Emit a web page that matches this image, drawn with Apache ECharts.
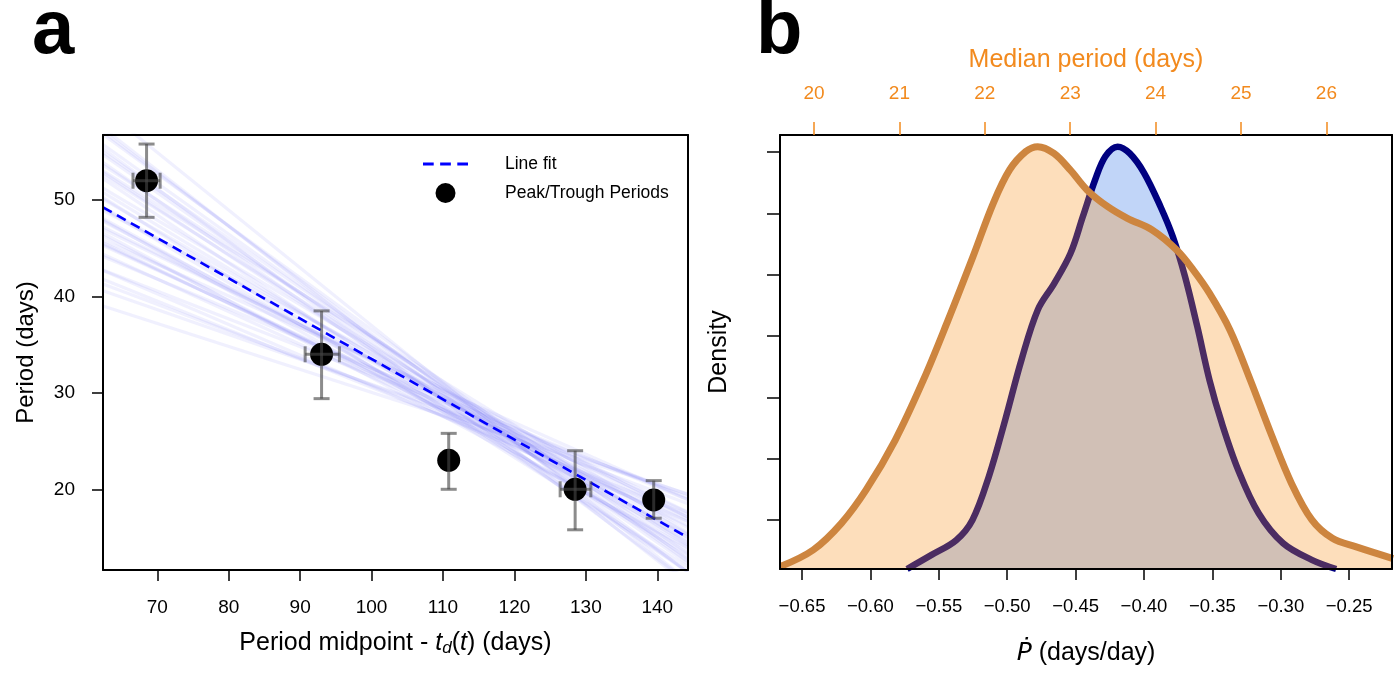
<!DOCTYPE html>
<html>
<head>
<meta charset="utf-8">
<script src="https://cdn.jsdelivr.net/npm/echarts@6/dist/echarts.min.js"></script>
<style>
html,body{margin:0;padding:0;background:#fff;}
#chart{width:1400px;height:676px;}
</style>
</head>
<body>
<div id="chart"></div>
<script>
// ---------- Panel a data ----------
const periodMidpoint = [68.5, 93.0, 110.8, 128.5, 139.5];
const periodDays     = [52.0, 34.0, 23.0, 20.0, 18.9];
const periodErrLow   = [48.2, 29.4, 20.0, 15.8, 17.0];
const periodErrHigh  = [55.8, 38.5, 25.8, 24.0, 20.9];
const midpointErrLow = [66.6, 90.7, 110.8, 126.4, 139.5];
const midpointErrHigh= [70.4, 95.5, 110.8, 130.7, 139.5];
const xRangeA = [62.4, 144.3];
const yRangeA = [11.63, 56.74];
const lineFitY = [49.24, 14.99];          // fit value at the two x-range ends
// posterior sample lines: value at left end and at right end of the x range
const sampleLeftY  = [49.24, 52.57, 45.56, 53.90, 44.13, 49.13, 48.90, 57.09, 41.29, 52.86, 45.27, 53.03, 46.55, 56.80, 42.68, 52.21, 47.21, 50.09, 40.60, 57.48, 46.25, 53.62, 45.82, 55.75, 48.09, 50.78, 41.78, 54.96, 45.42, 55.34, 42.74, 50.27, 47.80, 51.23, 46.96, 54.70, 39.00, 59.48, 47.94, 44.37];
const sampleRightY = [14.99, 14.23, 16.23, 11.46, 18.89, 13.24, 17.11, 11.37, 18.51, 12.88, 17.57, 15.50, 13.94, 12.71, 16.62, 11.41, 17.06, 15.02, 19.46, 10.12, 15.28, 14.45, 18.95, 12.49, 14.66, 14.07, 17.37, 13.33, 16.90, 10.44, 19.14, 11.93, 16.01, 15.34, 17.63, 12.26, 19.50, 10.48, 13.69, 16.67];
const xTicksA = [70, 80, 90, 100, 110, 120, 130, 140];
const yTicksA = [20, 30, 40, 50];

// ---------- Panel b data ----------
const pdotValues = [-0.5732, -0.5553, -0.5373, -0.5254, -0.5134, -0.5015, -0.4896, -0.4776, -0.4656, -0.4537, -0.4447, -0.4357, -0.4283, -0.4193, -0.4104, -0.3999, -0.3879, -0.3789, -0.3700, -0.3610, -0.3521, -0.3431, -0.3312, -0.3162, -0.2983, -0.2774, -0.2595];
const pdotDensity = [0.0, 0.23, 0.47, 0.80, 1.51, 2.43, 3.41, 4.23, 4.66, 5.15, 5.75, 6.35, 6.73, 6.89, 6.78, 6.46, 5.91, 5.42, 4.77, 3.95, 3.08, 2.38, 1.62, 0.91, 0.42, 0.15, 0.0];
const medianPeriod = [19.607, 19.99, 20.32, 20.61, 20.95, 21.28, 21.57, 21.86, 22.10, 22.29, 22.48, 22.62, 22.81, 23.00, 23.20, 23.44, 23.67, 23.96, 24.25, 24.44, 24.63, 24.87, 25.11, 25.35, 25.59, 25.83, 26.07, 26.35, 26.78];
const medianDensity = [0.04, 0.31, 0.745, 1.29, 2.10, 3.08, 4.06, 5.09, 5.97, 6.51, 6.81, 6.89, 6.78, 6.51, 6.18, 5.91, 5.72, 5.53, 5.20, 4.88, 4.50, 3.90, 3.08, 2.21, 1.40, 0.80, 0.50, 0.36, 0.17];
const xRangeB = [-0.6661, -0.2187];
const topRangeB = [19.602, 26.768];
const yRangeB = [0, 7.08];
const xTicksB = [-0.65, -0.60, -0.55, -0.50, -0.45, -0.40, -0.35, -0.30, -0.25];
const topTicksB = [20, 21, 22, 23, 24, 25, 26];
const densityTicks = [0.8, 1.8, 2.8, 3.8, 4.8, 5.8, 6.8];

const FONT = "'Liberation Sans', Arial, Helvetica, sans-serif";
const ORANGE = '#f28a1e';

const chart = echarts.init(document.getElementById('chart'), null, {renderer: 'canvas'});

function boxAxis(type, gridIndex, position) {
  return {
    type: 'value', gridIndex, position, z: 10,
    min: type === 'x' ? (gridIndex === 0 ? xRangeA[0] : xRangeB[0]) : (gridIndex === 0 ? yRangeA[0] : yRangeB[0]),
    max: type === 'x' ? (gridIndex === 0 ? xRangeA[1] : xRangeB[1]) : (gridIndex === 0 ? yRangeA[1] : yRangeB[1]),
    axisLine: {show: true, onZero: false, lineStyle: {color: '#000', width: 2}},
    axisTick: {show: false}, axisLabel: {show: false}, splitLine: {show: false}
  };
}

const minusFmt = v => (v < 0 ? '\u2212' : '') + Math.abs(v).toFixed(2);

const sampleSeries = sampleLeftY.map((l, i) => ({
  name: 'sample ' + i, type: 'line', xAxisIndex: 0, yAxisIndex: 0, z: 1,
  silent: true, symbol: 'none', clip: true,
  lineStyle: {color: 'rgb(85,85,245)', width: 3.2, opacity: 0.085},
  data: [[xRangeA[0], l], [xRangeA[1], sampleRightY[i]]]
}));

const option = {
  backgroundColor: '#fff',
  animation: false,
  textStyle: {fontFamily: FONT},
  grid: [
    {left: 103, top: 135, width: 585, height: 435},
    {left: 780, top: 135, width: 612, height: 434}
  ],
  xAxis: [
    { // 0 panel a bottom
      type: 'value', gridIndex: 0, position: 'bottom', z: 10,
      min: xRangeA[0], max: xRangeA[1],
      axisLine: {show: true, onZero: false, lineStyle: {color: '#000', width: 2}},
      axisTick: {show: true, length: 11, customValues: xTicksA, lineStyle: {color: '#000', width: 1.5}},
      axisLabel: {show: true, customValues: xTicksA, margin: 28, color: '#000', fontSize: 19, fontFamily: FONT},
      splitLine: {show: false},
      name: 'Period midpoint - {it|t}{sub|d}({it|t}) (days)',
      nameLocation: 'middle', nameGap: 60,
      nameTextStyle: {fontSize: 25, color: '#000', fontFamily: FONT,
        rich: {it: {fontStyle: 'italic', fontSize: 25, fontFamily: FONT},
               sub: {fontStyle: 'italic', fontSize: 17, fontFamily: FONT, verticalAlign: 'bottom', padding: [10, 0, 0, 0]}}}
    },
    boxAxis('x', 0, 'top'), // 1 panel a top line
    { // 2 panel b bottom
      type: 'value', gridIndex: 1, position: 'bottom', z: 10,
      min: xRangeB[0], max: xRangeB[1],
      axisLine: {show: true, onZero: false, lineStyle: {color: '#000', width: 2}},
      axisTick: {show: true, length: 11, customValues: xTicksB, lineStyle: {color: '#000', width: 1.5}},
      axisLabel: {show: true, customValues: xTicksB, margin: 28, color: '#000', fontSize: 18.5, fontFamily: FONT, formatter: minusFmt},
      splitLine: {show: false},
      name: '{it|\u1E56} (days/day)',
      nameLocation: 'middle', nameGap: 72,
      nameTextStyle: {fontSize: 25, color: '#000', fontFamily: FONT,
        rich: {it: {fontStyle: 'italic', fontSize: 25, fontFamily: "'DejaVu Sans', " + FONT}}}
    },
    { // 3 panel b top (median period)
      type: 'value', gridIndex: 1, position: 'top', z: 10,
      min: topRangeB[0], max: topRangeB[1],
      axisLine: {show: true, onZero: false, lineStyle: {color: '#000', width: 2}},
      axisTick: {show: true, length: 13, customValues: topTicksB, lineStyle: {color: ORANGE, width: 1.5}},
      axisLabel: {show: true, customValues: topTicksB, margin: 32, color: ORANGE, fontSize: 19, fontFamily: FONT},
      splitLine: {show: false},
      name: 'Median period (days)',
      nameLocation: 'middle', nameGap: 62,
      nameTextStyle: {fontSize: 25, color: ORANGE, fontFamily: FONT}
    }
  ],
  yAxis: [
    { // 0 panel a left
      type: 'value', gridIndex: 0, position: 'left', z: 10,
      min: yRangeA[0], max: yRangeA[1],
      axisLine: {show: true, onZero: false, lineStyle: {color: '#000', width: 2}},
      axisTick: {show: true, length: 11, customValues: yTicksA, lineStyle: {color: '#000', width: 1.5}},
      axisLabel: {show: true, customValues: yTicksA, margin: 28, color: '#000', fontSize: 19, fontFamily: FONT},
      splitLine: {show: false},
      name: 'Period (days)', nameLocation: 'middle', nameGap: 65,
      nameTextStyle: {fontSize: 24, color: '#000', fontFamily: FONT}
    },
    boxAxis('y', 0, 'right'), // 1
    { // 2 panel b left
      type: 'value', gridIndex: 1, position: 'left', z: 10,
      min: yRangeB[0], max: yRangeB[1],
      axisLine: {show: true, onZero: false, lineStyle: {color: '#000', width: 2}},
      axisTick: {show: true, length: 13, customValues: densityTicks, lineStyle: {color: '#000', width: 1.5}},
      axisLabel: {show: false},
      splitLine: {show: false},
      name: 'Density', nameLocation: 'middle', nameGap: 48,
      nameTextStyle: {fontSize: 25, color: '#000', fontFamily: FONT}
    },
    boxAxis('y', 1, 'right') // 3
  ],
  legend: {
    left: 418, top: 150, orient: 'vertical',
    itemWidth: 45, itemHeight: 20, itemGap: 10,
    textStyle: {fontSize: 17.5, color: '#000', fontFamily: FONT, padding: [0, 0, 0, 32]},
    data: [
      {name: 'Line fit', icon: 'path://M0,0h10v3h-10z M16,0h10v3h-10z M32,0h10v3h-10z'},
      {name: 'Peak/Trough Periods', icon: 'circle', itemStyle: {color: '#000', opacity: 1}}
    ]
  },
  graphic: [
    {type: 'text', x: 32, y: 32, z: 100, style: {text: 'a', font: 'bold 76px ' + FONT, fill: '#000', verticalAlign: 'middle'}},
    {type: 'text', x: 756, y: 32, z: 100, style: {text: 'b', font: 'bold 76px ' + FONT, fill: '#000', verticalAlign: 'middle'}}
  ],
  series: sampleSeries.concat([
    {
      name: 'Line fit', type: 'line', xAxisIndex: 0, yAxisIndex: 0, z: 3,
      symbol: 'none', color: '#0000ff',
      lineStyle: {color: '#0000ff', width: 2.6, type: [10, 6]},
      data: [[xRangeA[0], lineFitY[0]], [xRangeA[1], lineFitY[1]]]
    },
    {
      name: 'Peak/Trough Periods', type: 'scatter', xAxisIndex: 0, yAxisIndex: 0, z: 4,
      symbol: 'circle', symbolSize: 23, color: '#000',
      itemStyle: {color: '#000', opacity: 1},
      data: periodMidpoint.map((x, i) => [x, periodDays[i]])
    },
    {
      name: 'error bars', type: 'custom', xAxisIndex: 0, yAxisIndex: 0, z: 5, silent: true,
      renderItem: function (params, api) {
        const x = api.value(0), y = api.value(1);
        const yl = api.value(2), yh = api.value(3), xl = api.value(4), xh = api.value(5);
        const pl = api.coord([x, yl]), ph = api.coord([x, yh]);
        const ql = api.coord([xl, y]), qh = api.coord([xh, y]);
        const cap = 8;
        const st = {stroke: 'rgba(70,70,70,0.62)', lineWidth: 3, fill: null};
        const ch = [
          {type: 'line', shape: {x1: pl[0], y1: pl[1], x2: ph[0], y2: ph[1]}, style: st},
          {type: 'line', shape: {x1: pl[0] - cap, y1: pl[1], x2: pl[0] + cap, y2: pl[1]}, style: st},
          {type: 'line', shape: {x1: ph[0] - cap, y1: ph[1], x2: ph[0] + cap, y2: ph[1]}, style: st}
        ];
        if (xh > xl) {
          ch.push({type: 'line', shape: {x1: ql[0], y1: ql[1], x2: qh[0], y2: qh[1]}, style: st});
          ch.push({type: 'line', shape: {x1: ql[0], y1: ql[1] - cap, x2: ql[0], y2: ql[1] + cap}, style: st});
          ch.push({type: 'line', shape: {x1: qh[0], y1: qh[1] - cap, x2: qh[0], y2: qh[1] + cap}, style: st});
        }
        return {type: 'group', children: ch};
      },
      data: periodMidpoint.map((x, i) => [x, periodDays[i], periodErrLow[i], periodErrHigh[i], midpointErrLow[i], midpointErrHigh[i]])
    },
    {
      name: 'P-dot density', type: 'line', xAxisIndex: 2, yAxisIndex: 2, z: 2,
      symbol: 'none', smooth: 0.35, clip: true,
      lineStyle: {color: '#000080', width: 6.5},
      areaStyle: {color: 'rgb(100,149,237)', opacity: 0.4, origin: 'start'},
      data: pdotValues.map((v, i) => [v, pdotDensity[i]])
    },
    {
      name: 'Median period density', type: 'line', xAxisIndex: 3, yAxisIndex: 2, z: 3,
      symbol: 'none', smooth: 0.35, clip: true,
      lineStyle: {color: '#cd853f', width: 7},
      areaStyle: {color: 'rgb(250,145,30)', opacity: 0.3, origin: 'start'},
      data: medianPeriod.map((v, i) => [v, medianDensity[i]])
    }
  ])
};
chart.setOption(option);
</script>
</body>
</html>
